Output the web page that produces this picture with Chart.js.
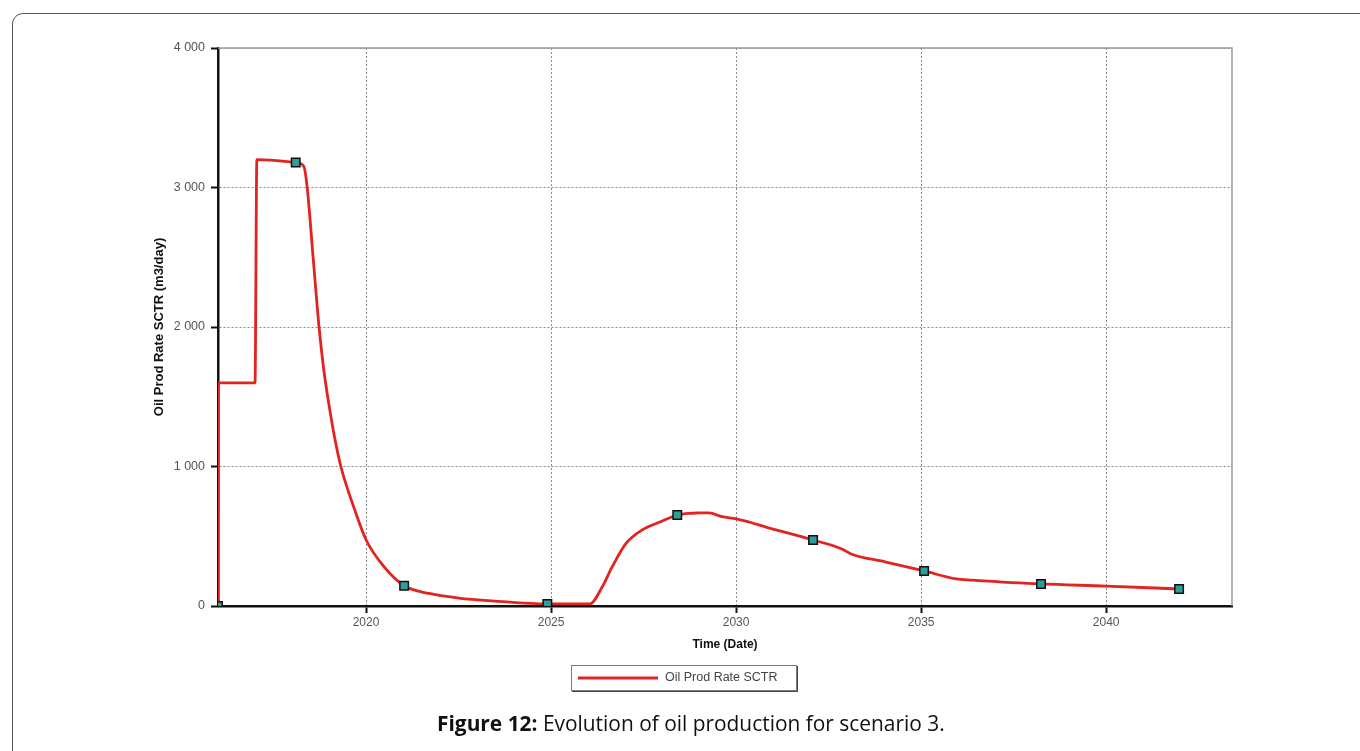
<!DOCTYPE html>
<html>
<head>
<meta charset="utf-8">
<script src="https://cdn.jsdelivr.net/npm/chart.js@4.4.0/dist/chart.umd.min.js"></script>
<style>
  html, body { margin: 0; padding: 0; background: #fff; }
  #wrap { position: relative; width: 1360px; height: 751px; overflow: hidden; }
  #frame { position: absolute; left: 12px; top: 13px; width: 1400px; height: 800px;
           border: 1.5px solid #555; border-radius: 11px; box-sizing: border-box; }
  #chart1 { position: absolute; left: 0; top: 0; }
  #caption { position: absolute; left: 437px; top: 711px; font-family: "Open Sans", sans-serif;
             font-size: 20.9px; line-height: 24px; color: #111; white-space: nowrap; }
</style>
</head>
<body>
<div id="wrap">
  <div id="frame"></div>
  <canvas id="chart1" width="1360" height="751"></canvas>
  <div id="caption"><b>Figure 12:</b> Evolution of oil production for scenario 3.</div>
</div>
<script>
// oil production rate (m3/day) by decimal year
const years = [2016.0, 2016.01, 2017.0, 2017.05, 2018.1, 2018.32, 2018.41, 2018.57, 2018.73, 2018.86,
               2019.0, 2019.15, 2019.32, 2019.68, 2020.0, 2020.49, 2021.03, 2021.7, 2022.5, 2023.5,
               2024.9, 2026.05, 2026.38, 2026.65, 2027.03, 2027.46, 2027.92, 2028.41, 2028.81, 2029.0,
               2029.27, 2029.62, 2030.0, 2030.35, 2030.81, 2032.08, 2032.86, 2033.11, 2034.05, 2035.08,
               2035.95, 2036.38, 2038.24, 2040.0, 2041.97];
const oilRate = [0, 1600, 1600, 3200, 3180, 3150, 3000, 2500, 2000, 1690,
                 1440, 1210, 1000, 700, 475, 280, 145, 90, 57, 35,
                 15, 15, 136, 280, 450, 545, 600, 652, 665, 667,
                 667, 640, 625, 602, 566, 473, 409, 373, 315, 251,
                 194, 186, 158, 143, 122];
// sample markers on the curve
const markerYears = [2016.0, 2018.1, 2021.03, 2024.9, 2028.41, 2032.08, 2035.08, 2038.24, 2041.97];
const markerRates = [0, 3180, 145, 15, 652, 473, 251, 158, 122];

const xTicks = [2020, 2025, 2030, 2035, 2040];
const yTicks = [0, 1000, 2000, 3000, 4000];

const fmt = v => String(v).replace(/\B(?=(\d{3})+(?!\d))/g, " ");

const framePlugin = {
    id: "framePlugin",
    afterDatasetsDraw(chart) {
        const { ctx, chartArea: a } = chart;
        ctx.save();
        ctx.strokeStyle = "#9a9a9a";
        ctx.lineWidth = 1.5;
        ctx.beginPath();
        ctx.moveTo(a.left, a.top);
        ctx.lineTo(a.right, a.top);
        ctx.lineTo(a.right, a.bottom);
        ctx.stroke();
        ctx.restore();
    },
    afterDraw(chart) {
        // legend box under the axis title
        const ctx = chart.ctx;
        const ds = chart.data.datasets[0];
        ctx.save();
        ctx.strokeStyle = "#7a7a7a";
        ctx.lineWidth = 1;
        ctx.strokeRect(571.5, 665.5, 225, 25);
        ctx.strokeStyle = "#444";
        ctx.beginPath();
        ctx.moveTo(572, 691.5); ctx.lineTo(797.5, 691.5); ctx.lineTo(797.5, 666);
        ctx.stroke();
        ctx.strokeStyle = ds.borderColor;
        ctx.lineWidth = 3;
        ctx.beginPath();
        ctx.moveTo(578, 678); ctx.lineTo(658, 678);
        ctx.stroke();
        ctx.fillStyle = "#444";
        ctx.font = "12.5px 'Liberation Sans', Arial, sans-serif";
        ctx.textBaseline = "middle";
        ctx.fillText(ds.label, 665, 678);
        ctx.restore();
    }
};

new Chart(document.getElementById("chart1").getContext("2d"), {
    type: "line",
    data: {
        datasets: [{
            label: "Oil Prod Rate SCTR",
            data: years.map((x, i) => ({ x: x, y: oilRate[i] })),
            borderColor: "#e3231f",
            borderWidth: 2.8,
            pointRadius: 0,
            cubicInterpolationMode: "monotone",
            order: 2
        }, {
            label: "markers",
            data: markerYears.map((x, i) => ({ x: x, y: markerRates[i] })),
            showLine: false,
            pointStyle: "rect",
            pointRadius: 6,
            pointBackgroundColor: "#2e9e9a",
            pointBorderColor: "#111",
            pointBorderWidth: 1.5,
            order: 1
        }]
    },
    options: {
        responsive: false,
        animation: false,
        layout: { padding: { left: 150, right: 128, top: 48, bottom: 95 } },
        plugins: { legend: { display: false }, tooltip: { enabled: false } },
        scales: {
            x: {
                type: "linear",
                min: 2016,
                max: 2043.4,
                afterBuildTicks: s => { s.ticks = xTicks.map(v => ({ value: v })); },
                afterFit: s => { s.height = 50; },
                ticks: {
                    color: "#555",
                    font: { family: "'Liberation Sans', Arial", size: 12 },
                    padding: 2,
                    maxRotation: 0,
                    callback: v => String(v)
                },
                grid: { color: "#8a8a8a", tickColor: "#111", tickLength: 7, tickWidth: 2 },
                border: { color: "#111", width: 2.5, dash: [2, 2] },
                title: {
                    display: true,
                    text: "Time (Date)",
                    color: "#111",
                    font: { family: "'Liberation Sans', Arial", size: 12, weight: "bold" },
                    padding: { top: 4, bottom: 4 }
                }
            },
            y: {
                min: 0,
                max: 4000,
                afterBuildTicks: s => { s.ticks = yTicks.map(v => ({ value: v })); },
                afterFit: s => { s.width = 68; },
                ticks: {
                    color: "#555",
                    font: { family: "'Liberation Sans', Arial", size: 12.5 },
                    padding: 6,
                    callback: v => fmt(v)
                },
                grid: { color: "#8a8a8a", tickColor: "#111", tickLength: 7, tickWidth: 2 },
                border: { color: "#111", width: 2.5, dash: [2, 2] },
                title: {
                    display: true,
                    text: "Oil Prod Rate SCTR (m3/day)",
                    color: "#111",
                    font: { family: "'Liberation Sans', Arial", size: 13, weight: "bold" },
                    padding: { top: 2, bottom: 4 }
                }
            }
        }
    },
    plugins: [framePlugin]
});
</script>
</body>
</html>
